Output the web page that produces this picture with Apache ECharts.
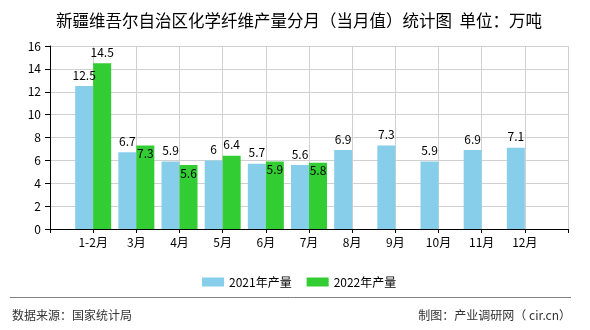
<!DOCTYPE html>
<html>
<head>
<meta charset="utf-8">
<script src="https://cdn.jsdelivr.net/npm/echarts@6/dist/echarts.min.js"></script>
<style>html,body{margin:0;padding:0;background:#fff}#c{width:590px;height:330px}</style>
</head>
<body>
<div id="c"></div>
<script>
var categories = ['1-2月','3月','4月','5月','6月','7月','8月','9月','10月','11月','12月'];
var values2021 = [12.5, 6.7, 5.9, 6, 5.7, 5.6, 6.9, 7.3, 5.9, 6.9, 7.1];
var values2022 = [14.5, 7.3, 5.6, 6.4, 5.9, 5.8, null, null, null, null, null];
var seriesNames = ['2021年产量', '2022年产量'];
var titleText = '新疆维吾尔自治区化学纤维产量分月（当月值）统计图  单位：万吨';
var sourceText = '数据来源：国家统计局';
var makerText = '制图：产业调研网（ cir.cn）';

var FONT = '"Noto Sans CJK SC", "Noto Sans", sans-serif';
var axisCats = [''].concat(categories, ['']);
var d2021 = [null].concat(values2021, [null]);
var d2022 = [null].concat(values2022.map(function (v, i) {
  if (v == null) return null;
  var b = values2021[i];
  // place label inside the bar when it would collide with the neighbouring label
  var inside = (v - b < 1) && String(b).length > 1;
  return inside ? { value: v, label: { position: 'insideTop', distance: 2 } } : v;
}), [null]);

var chart = echarts.init(document.getElementById('c'), null, { renderer: 'canvas' });
chart.setOption({
  backgroundColor: '#fff',
  animation: false,
  textStyle: { fontFamily: FONT },
  title: {
    text: titleText,
    left: 294, top: 7, textAlign: 'center',
    textStyle: { fontFamily: FONT, fontSize: 16.5, fontWeight: 'normal', color: '#000' }
  },
  legend: {
    data: seriesNames,
    left: 197, top: 271,
    itemWidth: 22, itemHeight: 9, itemGap: 15,
    icon: 'rect',
    textStyle: { fontFamily: FONT, fontSize: 12, color: '#000' }
  },
  grid: { left: 50, right: 22, top: 46, bottom: 101, containLabel: false },
  xAxis: {
    type: 'category',
    data: axisCats,
    boundaryGap: false,
    axisLine: { lineStyle: { color: '#000', width: 1 } },
    axisTick: { show: true, length: 4, lineStyle: { color: '#000' } },
    axisLabel: { color: '#000', fontSize: 12, margin: 7, interval: 0, fontFamily: FONT },
    splitLine: { show: true, lineStyle: { color: '#d0d0d0', width: 1 } }
  },
  yAxis: {
    type: 'value',
    min: 0, max: 16, interval: 2,
    axisLine: { show: true, lineStyle: { color: '#000', width: 1 } },
    axisTick: { show: true, length: 5, lineStyle: { color: '#000' } },
    axisLabel: { color: '#000', fontSize: 12, margin: 9, fontFamily: FONT },
    splitLine: { show: true, lineStyle: { color: '#d0d0d0', width: 1 } }
  },
  series: [
    {
      name: seriesNames[0], type: 'bar', data: d2021,
      barWidth: 18, barGap: '0%',
      itemStyle: { color: '#87ceeb' },
      label: { show: true, position: 'top', distance: 5, color: '#000', fontSize: 12, fontFamily: FONT }
    },
    {
      name: seriesNames[1], type: 'bar', data: d2022,
      barWidth: 18, barGap: '0%',
      itemStyle: { color: '#32cd32' },
      label: { show: true, position: 'top', distance: 5, color: '#000', fontSize: 12, fontFamily: FONT }
    }
  ],
  graphic: [
    { type: 'line', shape: { x1: 10, y1: 297.5, x2: 571, y2: 297.5 }, style: { stroke: '#808080', lineWidth: 1 }, silent: true },
    { type: 'text', left: 12, top: 309, style: { text: sourceText, font: '12px ' + FONT, fill: '#333' }, silent: true },
    { type: 'text', right: 19, top: 309, style: { text: makerText, font: '12px ' + FONT, fill: '#333' }, silent: true }
  ]
});
</script>
</body>
</html>
